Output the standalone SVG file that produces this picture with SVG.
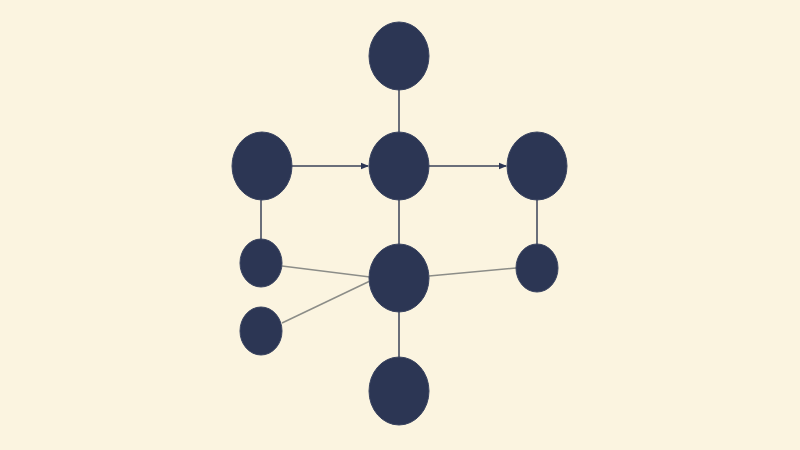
<svg xmlns="http://www.w3.org/2000/svg" width="800" height="450" viewBox="0 0 800 450">
<style>
.node{fill:#2c3654;stroke:#3a4460;stroke-width:1}
.dark{stroke:#3a4258;stroke-width:1.5;fill:none}
.light{stroke:#8c8d88;stroke-width:1.5;fill:none}
</style>
<defs>
<marker id="arr" markerWidth="8" markerHeight="8" refX="7" refY="4" orient="auto" markerUnits="userSpaceOnUse">
<path d="M0,0.8 L8,4 L0,7.2 Z" fill="#2c3654"/>
</marker>
</defs>
<rect width="800" height="450" fill="#fbf4e0"/>
<g id="connectors">
<line class="dark" x1="399" y1="89" x2="399" y2="132"/>
<line class="dark" x1="291" y1="166" x2="368" y2="166" marker-end="url(#arr)"/>
<line class="dark" x1="429" y1="166" x2="506" y2="166" marker-end="url(#arr)"/>
<line class="dark" x1="261" y1="200" x2="261" y2="239"/>
<line class="dark" x1="399" y1="200" x2="399" y2="244"/>
<line class="dark" x1="537" y1="200" x2="537" y2="245"/>
<line class="dark" x1="399" y1="312" x2="399" y2="357"/>
<line class="light" x1="282" y1="266" x2="370" y2="277"/>
<line class="light" x1="282" y1="323" x2="370" y2="281"/>
<line class="light" x1="429" y1="276" x2="516" y2="268"/>
</g>
<g id="n-top"><ellipse class="node" cx="399" cy="56" rx="30" ry="34"/></g>
<g id="n-left"><ellipse class="node" cx="262" cy="166" rx="30" ry="34"/></g>
<g id="n-center"><ellipse class="node" cx="399" cy="166" rx="30" ry="34"/></g>
<g id="n-right"><ellipse class="node" cx="537" cy="166" rx="30" ry="34"/></g>
<g id="n-small-left"><ellipse class="node" cx="261" cy="263" rx="21" ry="24"/></g>
<g id="n-center-lower"><ellipse class="node" cx="399" cy="278" rx="30" ry="34"/></g>
<g id="n-small-right"><ellipse class="node" cx="537" cy="268" rx="21" ry="24"/></g>
<g id="n-small-left-lower"><ellipse class="node" cx="261" cy="331" rx="21" ry="24"/></g>
<g id="n-bottom"><ellipse class="node" cx="399" cy="391" rx="30" ry="34"/></g>
</svg>
